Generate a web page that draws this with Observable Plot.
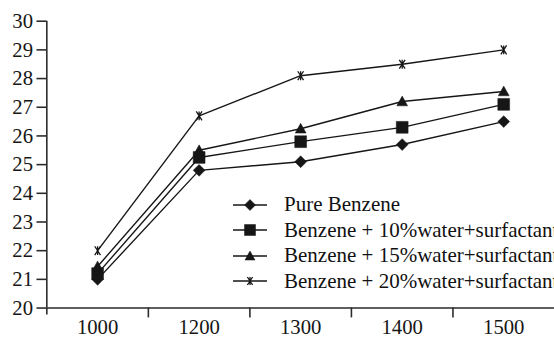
<!DOCTYPE html>
<html>
<head>
<meta charset="utf-8">
<script src="https://cdn.jsdelivr.net/npm/d3@7"></script>
<script src="https://cdn.jsdelivr.net/npm/@observablehq/plot@0.6"></script>
<style>
  html, body { margin: 0; padding: 0; background: #fff; overflow: hidden; width: 554px; height: 341px; }
  #wrap { position: relative; width: 554px; height: 341px; overflow: hidden; }
  #legend { position: absolute; left: 233px; top: 192px; font-family: "Liberation Serif", serif; font-size: 21px; color: #111; white-space: nowrap; }
  .row { display: flex; align-items: center; height: 25.5px; }
  .row svg { flex: none; margin-right: 17px; }
</style>
</head>
<body>
<div id="wrap"><div id="legend"></div></div>
<script>
const categories = ["1000", "1200", "1300", "1400", "1500"];
const seriesNames = [
  "Pure Benzene",
  "Benzene + 10%water+surfactant",
  "Benzene + 15%water+surfactant",
  "Benzene + 20%water+surfactant"
];
const pureBenzene = [21.0, 24.8, 25.1, 25.7, 26.5];
const water10 = [21.2, 25.25, 25.8, 26.3, 27.1];
const water15 = [21.45, 25.5, 26.25, 27.2, 27.55];
const water20 = [22.0, 26.7, 28.1, 28.5, 29.0];
const yTicks = [20, 21, 22, 23, 24, 25, 26, 27, 28, 29, 30];

const ink = "#161616";

// custom symbols: r = half-extent in px
const rad = s => Math.sqrt(s / Math.PI);
const diamond = {draw(c, s) { const r = rad(s); c.moveTo(0, -r); c.lineTo(r, 0); c.lineTo(0, r); c.lineTo(-r, 0); c.closePath(); }};
const square = {draw(c, s) { const r = rad(s); c.moveTo(-r, -r); c.lineTo(r, -r); c.lineTo(r, r); c.lineTo(-r, r); c.closePath(); }};
const triangle = {draw(c, s) { const r = rad(s); c.moveTo(0, -r); c.lineTo(r, 0.8 * r); c.lineTo(-r, 0.8 * r); c.closePath(); }};
const star = {draw(c, s) { const r = rad(s); const w = 0.65 * r; c.moveTo(-w, -r); c.lineTo(w, r); c.moveTo(w, -r); c.lineTo(-w, r); c.moveTo(0, -r); c.lineTo(0, r); }};

const seriesValues = [pureBenzene, water10, water15, water20];
const symbols = [diamond, square, triangle, star];
const sizes = [6, 6, 5.5, 4.5];
const filled = [true, true, true, false];

const data = [];
seriesValues.forEach((vals, s) => vals.forEach((v, i) => data.push({series: seriesNames[s], s, i, v})));

const marks = [
  Plot.ruleY([20], {stroke: "#2a2a2a", strokeWidth: 1.6}),
  Plot.ruleX([-0.5], {y1: 20, y2: 30, stroke: "#2a2a2a", strokeWidth: 1.6}),
  Plot.axisY({ticks: yTicks, tickSize: 10, tickPadding: 4, label: null, stroke: "#2a2a2a", strokeWidth: 1.6, fill: ink}),
  Plot.axisX({ticks: [0, 1, 2, 3, 4], tickSize: 0, tickPadding: 11, tickFormat: i => categories[i], label: null, fill: ink}),
  Plot.axisX({ticks: [0.5, 1.5, 2.5, 3.5], tickSize: 10, tickFormat: () => "", label: null, stroke: "#2a2a2a", strokeWidth: 1.6}),
  Plot.axisX({ticks: [-0.5], tickSize: 7, tickFormat: () => "", label: null, stroke: "#2a2a2a", strokeWidth: 1.6}),
  Plot.line(data, {x: "i", y: "v", z: "series", stroke: ink, strokeWidth: 1.4})
];
seriesNames.forEach((name, s) => {
  marks.push(Plot.dot(data.filter(d => d.s === s), {
    x: "i", y: "v", symbol: symbols[s], r: sizes[s],
    fill: filled[s] ? ink : "none", stroke: ink, strokeWidth: filled[s] ? 0.5 : 1.3
  }));
});

const chart = Plot.plot({
  width: 562,
  height: 341,
  marginLeft: 47,
  marginRight: 0,
  marginTop: 21,
  marginBottom: 29,
  style: {fontFamily: "'Liberation Serif', serif", fontSize: "21px", background: "#fff", overflow: "visible"},
  x: {type: "linear", domain: [-0.5, 4.5], axis: null},
  y: {domain: [20, 30], axis: null},
  marks
});
document.getElementById("wrap").insertBefore(chart, document.getElementById("legend"));

// legend
const legend = document.getElementById("legend");
seriesNames.forEach((name, s) => {
  const row = document.createElement("div");
  row.className = "row";
  const p = d3.path();
  symbols[s].draw(p, Math.PI * Math.pow(sizes[s] - 0.5, 2));
  row.innerHTML = `<svg width="34" height="20" viewBox="-17 -10 34 20">
    <line x1="-17" x2="17" y1="0" y2="0" stroke="${ink}" stroke-width="1.4"/>
    <path d="${p.toString()}" fill="${filled[s] ? ink : "none"}" stroke="${ink}" stroke-width="${filled[s] ? 0.5 : 1.3}"/>
  </svg><span>${name}</span>`;
  legend.appendChild(row);
});
</script>
</body>
</html>
